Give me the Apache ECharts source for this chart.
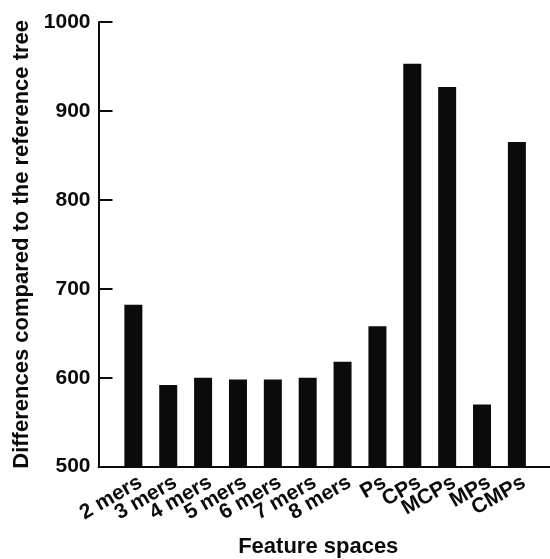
<!DOCTYPE html>
<html>
<head>
<meta charset="utf-8">
<title>Feature spaces</title>
<script src="https://cdn.jsdelivr.net/npm/echarts@6/dist/echarts.min.js"></script>
<style>
  html, body { margin: 0; padding: 0; background: #ffffff; }
  #chart { width: 550px; height: 559px; }
</style>
</head>
<body>
<div id="chart"></div>
<script>
// Feature spaces along the bottom axis
const categories = ['2 mers', '3 mers', '4 mers', '5 mers', '6 mers', '7 mers', '8 mers', 'Ps', 'CPs', 'MCPs', 'MPs', 'CMPs'];
// Differences compared to the reference tree, one per feature space
const differences = [682, 592, 600, 598, 598, 600, 618, 658, 953, 927, 570, 865];
// Left axis tick values
const yTicks = [500, 600, 700, 800, 900, 1000];

const ink = '#0b0b0b';
const font = '"Liberation Sans", Arial, Helvetica, sans-serif';

const chart = echarts.init(document.getElementById('chart'), null, { renderer: 'canvas' });

// bars sit on numeric positions 0..n-1 so the baseline can run past the
// last bar and leave a full slot of space before the first one
const barData = categories.map((name, i) => [i, differences[i]]);

chart.setOption({
  animation: false,
  backgroundColor: '#ffffff',
  grid: {
    left: 98.5, right: 0, top: 22, bottom: 92.3,
    containLabel: false,
    outerBoundsMode: 'none'
  },
  xAxis: {
    type: 'value',
    min: -1,
    max: categories.length - 0.05,
    interval: 1,
    name: 'Feature spaces',
    nameLocation: 'middle',
    nameGap: 69,
    nameTextStyle: { fontFamily: font, fontWeight: 'bold', fontSize: 22, color: ink, padding: [0, 12, 0, 0] },
    axisLine: { show: true, onZero: false, lineStyle: { color: ink, width: 2 } },
    axisTick: { show: false },
    splitLine: { show: false },
    axisLabel: {
      rotate: 30,
      margin: 2,
      fontFamily: font,
      fontWeight: 'bold',
      fontSize: 21,
      lineHeight: 28,
      color: ink,
      showMinLabel: false,
      showMaxLabel: false,
      // an empty first line drops each slanted name below and to the right of its bar
      formatter: v => (Number.isInteger(v) && v >= 0 && v < categories.length) ? '\n' + categories[v] : ''
    }
  },
  yAxis: {
    type: 'value',
    min: yTicks[0],
    max: yTicks[yTicks.length - 1],
    interval: yTicks[1] - yTicks[0],
    name: 'Differences compared to the reference tree',
    nameLocation: 'middle',
    nameGap: 54,
    nameRotate: 90,
    nameTextStyle: { fontFamily: font, fontWeight: 'bold', fontSize: 22, color: ink },
    axisLine: { show: true, onZero: false, lineStyle: { color: ink, width: 2 } },
    axisTick: { show: true, inside: true, length: 14, lineStyle: { color: ink, width: 2 } },
    splitLine: { show: false },
    axisLabel: {
      margin: 8,
      fontFamily: font,
      fontWeight: 'bold',
      fontSize: 21,
      color: ink,
      formatter: v => String(v)
    }
  },
  series: [{
    type: 'bar',
    data: barData,
    barWidth: 18,
    clip: true,
    itemStyle: { color: ink },
    emphasis: { disabled: true }
  }]
});
</script>
</body>
</html>
